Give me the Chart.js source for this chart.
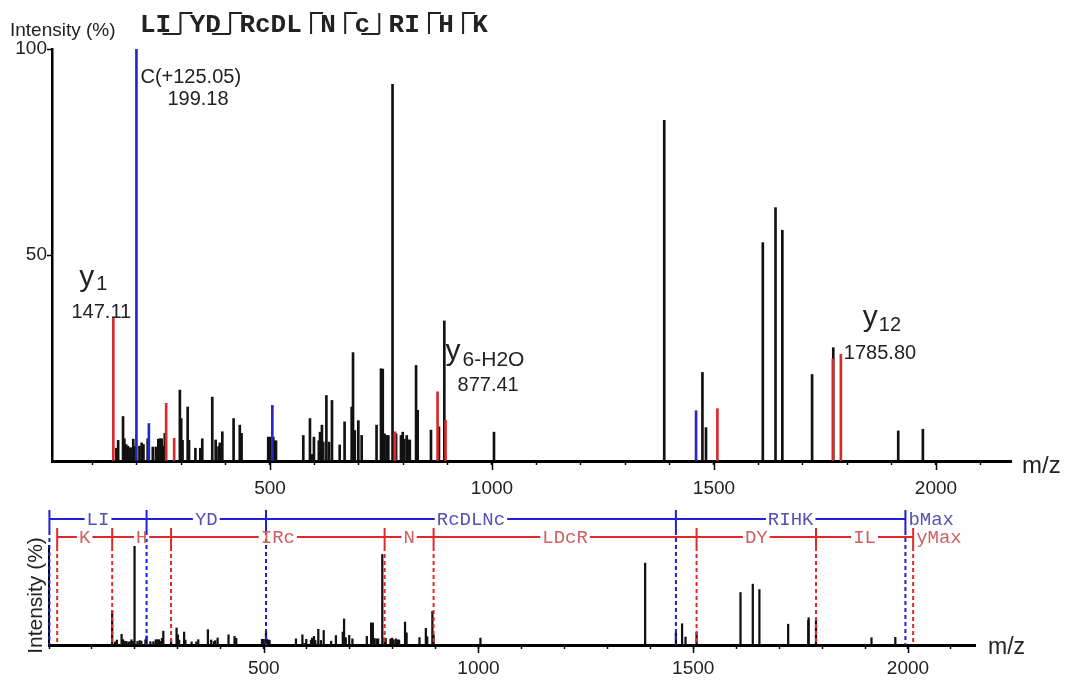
<!DOCTYPE html>
<html>
<head>
<meta charset="utf-8">
<script src="https://cdn.jsdelivr.net/npm/chart.js@4.4.0/dist/chart.umd.min.js"></script>
<style>
  body { margin: 0; background: #fff; }
  #wrap { position: relative; width: 1067px; height: 684px; }
  #top { position: absolute; left: 0; top: 0; }
  #bottom { position: absolute; left: 0; top: 500px; }
</style>
</head>
<body>
<div id="wrap">
  <canvas id="top" width="1067" height="500"></canvas>
  <canvas id="bottom" width="1067" height="184"></canvas>
</div>
<script>
// ---- spectrum peaks (m/z, relative intensity %) ----
var blackMz = [154, 158, 169, 172, 176, 180, 185, 189, 192, 196,
               206, 211, 215, 224.5, 236, 243, 248.5, 252, 256, 260.5,
               263, 297, 300, 303, 314.6, 317.6, 332, 343, 347.5, 370,
               377.6, 384, 387, 392.6, 418, 432, 436, 496, 500, 507.5,
               511, 513.5, 575, 590, 594, 599, 610, 612.6, 617, 620,
               627, 633, 639.6, 657, 668, 684, 687, 691, 699, 706.5,
               740, 750, 754, 758, 763, 766.5, 776, 784, 795, 799,
               802.5, 808, 811.5, 815, 829, 832.6, 862.6, 880.6, 892.6, 1004.5,
               1388, 1474, 1482, 1610, 1638.6, 1654, 1721, 1768.7, 1915, 1970.5];
var blackInt = [3.1, 5.0, 10.8, 5.4, 4.0, 3.6, 3.2, 3.2, 5.3, 3.6,
                3.6, 4.4, 4.0, 5.4, 3.4, 3.4, 5.3, 5.4, 5.4, 3.6,
                6.7, 17.2, 10.3, 5.0, 13.1, 5.0, 3.1, 3.1, 5.4, 15.5,
                5.1, 3.5, 4.4, 7.1, 10.3, 8.7, 6.7, 5.8, 5.8, 5.8,
                4.9, 4.9, 6.2, 10.3, 1.6, 5.8, 4.9, 7.0, 8.7, 4.6,
                15.9, 4.6, 14.7, 3.9, 9.5, 13.1, 26.3, 7.4, 9.8, 6.2,
                8.7, 22.4, 22.3, 6.6, 6.2, 6.2, 91.4, 6.6, 6.2, 7.0,
                5.3, 6.2, 5.1, 5.1, 23.2, 12.3, 7.5, 8.3, 34.0, 7.0,
                82.7, 21.5, 8.1, 53.0, 61.5, 56.0, 21.0, 27.5, 7.3, 7.7];
// y ions (red)
var redMz  = [147.11, 266.16, 284.17, 781.41, 877.41, 895.45, 1507.72, 1767.8, 1785.8];
var redInt = [34.8, 14.0, 5.5, 7.1, 16.8, 9.9, 12.7, 24.8, 25.9];
// b ions (blue)
var blueMz  = [199.18, 227.18, 505.27, 1459.64];
var blueInt = [100, 9.1, 13.5, 12.2];

// ---- fragment ladders for the lower panel ----
var bIons   = [1.01, 227.18, 505.27, 1459.64, 1993.98];
var bLabels = ['LI', 'YD', 'RcDLNc', 'RIHK'];
var yIons   = [19.02, 147.11, 284.17, 781.41, 895.45, 1507.72, 1785.81, 2011.98];
var yLabels = ['K', 'H', 'IRc', 'N', 'LDcR', 'DY', 'IL'];

// peptide and its cleavage marks (cut after residue n)
var sequence = ['L', 'I', 'Y', 'D', 'R', 'c', 'D', 'L', 'N', 'c', 'R', 'I', 'H', 'K'];
var bCuts = [2, 4, 10];
var yCuts = [2, 4, 8, 9, 12, 13];

var xTicks = [500, 1000, 1500, 2000];

var FONT = '"Liberation Sans", Arial, sans-serif';
var MONO = '"Courier New", "Liberation Mono", monospace';
var RED = '#d92b2b', BLUE = '#2626c9', INK = '#111';

function pts(mz, ints) {
  return mz.map(function (m, i) { return { x: m, y: ints[i] }; });
}

function majorTicks(ctx, xs, area, len) {
  ctx.strokeStyle = '#000';
  ctx.lineWidth = 1.5;
  xTicks.forEach(function (v) {
    var px = Math.round(xs.getPixelForValue(v)) + 0.5;
    ctx.beginPath();
    ctx.moveTo(px, area.bottom);
    ctx.lineTo(px, area.bottom + len);
    ctx.stroke();
  });
}

function ionLabel(ctx, x, y, sub, subDx, subDy) {
  ctx.font = '30px ' + FONT;
  ctx.fillText('y', x, y);
  ctx.font = '20px ' + FONT;
  ctx.fillText(sub, x + subDx, y + subDy);
}

var topDecor = {
  id: 'topDecor',
  afterDraw: function (chart) {
    var ctx = chart.ctx, xs = chart.scales.x, ys = chart.scales.y, area = chart.chartArea;
    ctx.save();
    majorTicks(ctx, xs, area, 9);

    ctx.fillStyle = '#222';
    ctx.textBaseline = 'alphabetic';
    ctx.textAlign = 'left';
    ctx.font = '19px ' + FONT;
    ctx.fillText('Intensity (%)', 10, 36);
    ctx.font = '24px ' + FONT;
    ctx.fillText('m/z', area.right + 11, area.bottom + 12);

    // peptide sequence with fragment marks
    ctx.font = 'bold 26px ' + MONO;
    var adv = ctx.measureText('M').width, gap = 18.5, x = 140, base = 32;
    ctx.strokeStyle = '#222';
    ctx.lineWidth = 2;
    for (var i = 0; i < sequence.length; i++) {
      ctx.fillText(sequence[i], x, base);
      x += adv;
      var n = i + 1, isB = bCuts.indexOf(n) >= 0, isY = yCuts.indexOf(n) >= 0;
      if (isB || isY) {
        var mx = x + gap / 2;
        ctx.beginPath();
        ctx.moveTo(mx, 34); ctx.lineTo(mx, 13);
        if (isY) { ctx.lineTo(mx + 12, 13); }
        ctx.stroke();
        if (isB) {
          ctx.beginPath();
          ctx.moveTo(mx, 34); ctx.lineTo(mx - 18, 34);
          ctx.stroke();
        }
        x += gap;
      }
    }

    // peak annotations
    ctx.fillStyle = '#222';
    var px = xs.getPixelForValue(blueMz[0]);
    ctx.font = '20px ' + FONT;
    ctx.fillText('C(+125.05)', px + 4, 83);
    ctx.fillText('199.18', px + 31, 105);

    px = xs.getPixelForValue(redMz[0]);
    var py = ys.getPixelForValue(redInt[0]);
    ctx.textAlign = 'center';
    ctx.font = '20px ' + FONT;
    ctx.fillText('147.11', px - 12, py);
    ctx.textAlign = 'left';
    ionLabel(ctx, px - 34, py - 32, '1', 17, 4);

    px = xs.getPixelForValue(redMz[4]);
    ionLabel(ctx, px + 8, 360, '', 0, 0);
    ctx.font = '21px ' + FONT;
    ctx.fillText('6-H2O', px + 25, 366);
    ctx.font = '20px ' + FONT;
    ctx.fillText('877.41', px + 20, 391);

    px = xs.getPixelForValue(redMz[8]);
    ctx.fillText('1785.80', px + 3, 359);
    ionLabel(ctx, px + 22, 326, '12', 16, 5);
    ctx.restore();
  }
};

function drawLadder(ctx, xs, ions, labels, endLabel, lineY, tTop, tBot, lineCol, textCol, axisY) {
  var xsPix = ions.map(function (v) { return xs.getPixelForValue(v); });
  ctx.strokeStyle = lineCol;
  ctx.lineWidth = 2;
  ctx.setLineDash([4, 3]);
  xsPix.forEach(function (p) {
    ctx.beginPath(); ctx.moveTo(p, tBot); ctx.lineTo(p, axisY); ctx.stroke();
  });
  ctx.setLineDash([]);
  ctx.beginPath();
  ctx.moveTo(xsPix[0], lineY); ctx.lineTo(xsPix[xsPix.length - 1], lineY);
  ctx.stroke();
  xsPix.forEach(function (p) {
    ctx.beginPath(); ctx.moveTo(p, tTop); ctx.lineTo(p, tBot); ctx.stroke();
  });
  ctx.font = '19px ' + MONO;
  ctx.textBaseline = 'middle';
  labels.forEach(function (t, i) {
    var c = (xsPix[i] + xsPix[i + 1]) / 2, w = ctx.measureText(t).width;
    ctx.fillStyle = '#fff';
    ctx.fillRect(c - w / 2 - 2, lineY - 2, w + 4, 4);
    ctx.fillStyle = textCol;
    ctx.textAlign = 'center';
    ctx.fillText(t, c, lineY + 1);
  });
  var last = xsPix[xsPix.length - 1];
  ctx.fillStyle = textCol;
  ctx.textAlign = 'left';
  ctx.fillText(endLabel, last + 3, lineY + 1);
}

var bottomDecor = {
  id: 'bottomDecor',
  afterDraw: function (chart) {
    var ctx = chart.ctx, xs = chart.scales.x, area = chart.chartArea;
    ctx.save();
    majorTicks(ctx, xs, area, 8);
    drawLadder(ctx, xs, bIons, bLabels, 'bMax', 19, 10, 31, '#1f1fd6', '#5353b5', area.bottom);
    drawLadder(ctx, xs, yIons, yLabels, 'yMax', 37, 28, 47, '#e02a2a', '#cf6060', area.bottom);
    ctx.fillStyle = '#222';
    ctx.textAlign = 'left';
    ctx.textBaseline = 'alphabetic';
    ctx.font = '23px ' + FONT;
    ctx.fillText('m/z', area.right + 13, area.bottom + 9);
    ctx.restore();
  }
};

function xAxis(min, max, h, pad) {
  return {
    type: 'linear', min: min, max: max, offset: false,
    afterFit: function (s) { s.height = h; },
    border: { display: true, color: '#000', width: 3 },
    grid: { display: true, drawOnChartArea: false, offset: false, tickLength: 4, color: '#000', tickColor: '#000', tickWidth: 1.5 },
    ticks: {
      stepSize: 100, includeBounds: false, autoSkip: false, maxRotation: 0, minRotation: 0,
      padding: pad, color: '#222', font: { family: FONT, size: 19 },
      callback: function (v) { return v > 0 && v % 500 === 0 ? v : ''; }
    }
  };
}

var common = {
  responsive: false, animation: false, devicePixelRatio: 1,
  plugins: { legend: { display: false }, tooltip: { enabled: false } }
};

new Chart(document.getElementById('top'), {
  type: 'bar',
  data: {
    datasets: [
      { data: pts(blueMz, blueInt), backgroundColor: BLUE, barThickness: 2, grouped: false },
      { data: pts(redMz, redInt), backgroundColor: RED, barThickness: 2, grouped: false },
      { data: pts(blackMz, blackInt), backgroundColor: INK, barThickness: 2, grouped: false }
    ]
  },
  options: Object.assign({}, common, {
    layout: { padding: { top: 49, right: 56, left: 0, bottom: 0 } },
    scales: {
      x: xAxis(9, 2169, 39, 12),
      y: {
        min: 0, max: 100,
        afterFit: function (s) { s.width = 52; },
        border: { display: true, color: '#000', width: 2.5 },
        grid: {
          display: true, drawOnChartArea: false, tickLength: 5, tickWidth: 1.5, color: '#000',
          tickColor: function (c) { return c.tick && c.tick.value === 0 ? 'rgba(0,0,0,0)' : '#000'; }
        },
        ticks: {
          stepSize: 50, padding: 0, color: '#222', font: { family: FONT, size: 19 },
          callback: function (v) { return v === 0 ? '' : v; }
        }
      }
    }
  }),
  plugins: [topDecor]
});

var allMz = blackMz.concat(redMz, blueMz);
var allInt = blackInt.concat(redInt, blueInt);

new Chart(document.getElementById('bottom'), {
  type: 'bar',
  data: { datasets: [{ data: pts(allMz, allInt), backgroundColor: INK, barThickness: 1.6, grouped: false }] },
  options: Object.assign({}, common, {
    layout: { padding: { top: 46, right: 92, left: 0, bottom: 0 } },
    scales: {
      x: xAxis(0, 2156, 39, 8),
      y: {
        min: 0, max: 100,
        afterFit: function (s) { s.width = 49; },
        border: { display: true, color: '#000', width: 2 },
        grid: { display: false },
        ticks: { display: false },
        title: {
          display: true, text: 'Intensity (%)', color: '#222',
          font: { family: FONT, size: 21 }, padding: { top: 24, bottom: 0 }
        }
      }
    }
  }),
  plugins: [bottomDecor]
});
</script>
</body>
</html>
